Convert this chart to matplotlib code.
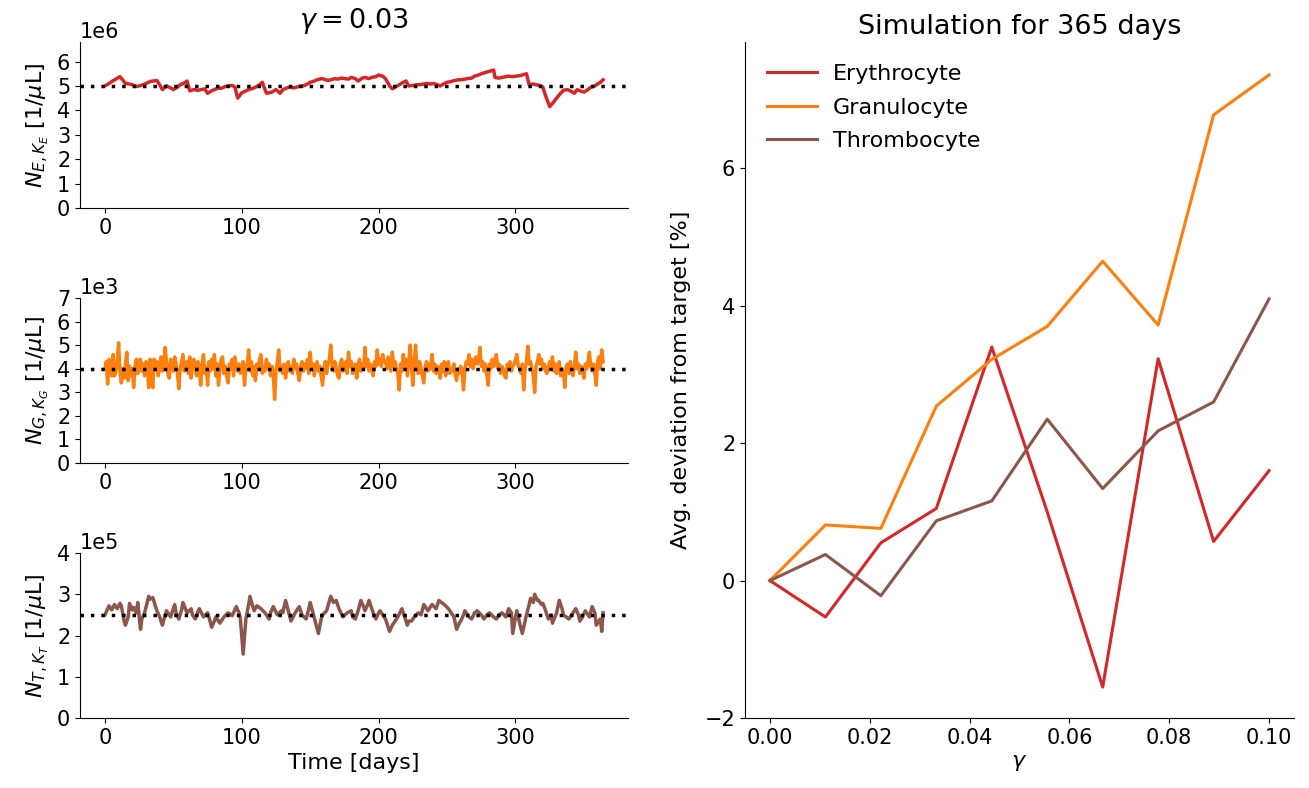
import numpy as np
import matplotlib
matplotlib.use("Agg")
import matplotlib.pyplot as plt
from matplotlib.ticker import MultipleLocator

# ---------------- data ----------------
# Erythrocytes (units of 1e6 / uL)
e_days = [0, 3, 5, 8, 11, 13, 15, 18, 20, 23,
          25, 28, 30, 33, 35, 38, 40, 42, 45, 48,
          50, 53, 55, 58, 60, 62, 65, 68, 70, 73,
          75, 78, 80, 83, 85, 88, 90, 93, 95, 97,
          100, 103, 105, 108, 110, 113, 115, 118, 120, 122,
          125, 128, 130, 133, 135, 138, 140, 143, 145, 148,
          150, 153, 155, 158, 160, 163, 165, 168, 170, 173,
          175, 178, 180, 183, 185, 188, 190, 193, 195, 198,
          200, 203, 205, 208, 210, 213, 215, 218, 220, 222,
          225, 228, 230, 233, 235, 238, 240, 243, 245, 248,
          250, 253, 255, 258, 260, 263, 265, 268, 270, 273,
          275, 278, 280, 282, 284, 285, 288, 290, 293, 295,
          298, 300, 303, 305, 308, 310, 313, 315, 318, 320,
          322, 325, 328, 330, 333, 335, 338, 340, 343, 345,
          348, 350, 353, 355, 358, 360, 362, 364]
e_vals = [5.00, 5.10, 5.18, 5.28, 5.38, 5.25, 5.10, 5.08, 5.05, 4.98,
          5.00, 5.05, 5.10, 5.18, 5.20, 5.22, 5.05, 4.85, 5.00, 4.92,
          4.85, 4.95, 5.05, 5.12, 5.20, 4.80, 4.85, 4.82, 4.85, 4.88,
          4.70, 4.80, 4.85, 4.92, 4.90, 4.98, 5.00, 5.02, 4.95, 4.50,
          4.72, 4.80, 4.85, 4.90, 4.95, 5.05, 5.15, 4.70, 4.72, 4.75,
          4.85, 4.70, 4.85, 4.92, 4.95, 4.92, 4.95, 5.00, 5.00, 5.08,
          5.15, 5.20, 5.25, 5.30, 5.28, 5.22, 5.25, 5.30, 5.28, 5.32,
          5.30, 5.28, 5.35, 5.30, 5.20, 5.32, 5.35, 5.30, 5.35, 5.38,
          5.45, 5.40, 5.30, 5.00, 4.88, 4.98, 5.05, 5.15, 5.20, 5.00,
          5.02, 5.05, 5.05, 5.08, 5.10, 5.08, 5.10, 5.05, 5.00, 5.10,
          5.15, 5.18, 5.22, 5.25, 5.25, 5.28, 5.30, 5.32, 5.40, 5.45,
          5.50, 5.55, 5.58, 5.62, 5.65, 5.35, 5.32, 5.35, 5.38, 5.40,
          5.38, 5.40, 5.42, 5.45, 5.50, 5.05, 5.08, 5.05, 5.02, 4.95,
          4.60, 4.15, 4.35, 4.50, 4.70, 4.82, 4.85, 4.80, 4.70, 4.85,
          4.78, 4.75, 4.85, 4.95, 5.00, 5.08, 5.15, 5.25]

# Granulocytes (units of 1e3 / uL), one value per day
g_vals = [4.0, 4.3, 3.35, 4.4, 4.2, 3.7, 4.6, 3.7, 3.9, 4.3,
          5.1, 3.9, 3.4, 4.0, 3.6, 4.2, 4.7, 3.5, 4.1, 3.7,
          4.0, 3.2, 4.1, 4.4, 3.8, 4.3, 4.4, 3.9, 4.2, 3.7,
          4.3, 4.1, 3.2, 4.4, 3.6, 3.2, 4.4, 4.0, 4.3, 3.7,
          4.1, 4.5, 3.9, 4.2, 4.9, 4.3, 3.8, 3.6, 4.4, 4.1,
          3.9, 4.5, 4.2, 3.8, 3.15, 4.0, 4.3, 4.6, 3.9, 4.2,
          4.3, 3.8, 4.5, 3.6, 4.1, 4.4, 4.0, 3.7, 4.3, 4.0,
          3.3, 4.2, 4.6, 3.8, 4.1, 3.3, 4.3, 3.9, 4.4, 4.0,
          4.6, 3.7, 4.2, 3.3, 4.0, 4.4, 4.5, 3.8, 4.1, 3.7,
          3.4, 4.2, 4.0, 4.4, 3.7, 4.5, 4.1, 3.9, 4.2, 3.8,
          4.0, 4.3, 3.3, 4.1, 4.2, 4.8, 3.9, 4.3, 3.7, 4.1,
          3.5, 4.2, 4.0, 4.4, 4.6, 3.8, 4.1, 3.9, 4.4, 4.0,
          4.2, 3.7, 4.1, 3.8, 2.7, 3.9, 4.3, 4.8, 3.9, 4.1,
          3.8, 4.2, 3.6, 4.0, 4.3, 3.9, 4.1, 3.8, 4.4, 4.0,
          4.2, 3.8, 3.5, 4.1, 4.3, 3.9, 4.2, 4.0, 4.4, 3.8,
          4.7, 4.0, 4.2, 3.7, 4.1, 4.3, 3.9, 4.1, 3.7, 3.3,
          4.0, 4.3, 3.8, 4.2, 4.4, 5.0, 4.1, 3.9, 4.3, 4.0,
          3.7, 3.6, 4.2, 4.4, 3.9, 4.1, 4.3, 3.8, 4.7, 4.1,
          4.3, 3.8, 4.0, 4.2, 3.6, 4.1, 4.4, 3.9, 4.2, 4.0,
          4.9, 4.1, 4.4, 3.9, 4.2, 4.0, 3.7, 4.3, 4.1, 4.8,
          4.2, 4.4, 4.1, 4.6, 4.3, 4.3, 4.0, 4.5, 4.2, 3.9,
          4.7, 4.1, 4.3, 4.0, 3.8, 3.1, 4.2, 3.9, 4.6, 4.0,
          4.4, 3.7, 4.2, 5.0, 4.1, 3.3, 4.3, 5.0, 4.0, 3.8,
          4.3, 4.0, 3.7, 3.4, 4.1, 4.3, 3.9, 4.2, 4.0, 4.6,
          3.9, 4.2, 3.8, 4.1, 4.0, 3.6, 4.2, 3.9, 4.3, 3.7,
          4.1, 4.3, 3.8, 4.0, 3.9, 4.2, 3.7, 3.5, 4.0, 3.8,
          4.1, 3.9, 3.1, 4.0, 4.3, 4.2, 4.6, 4.1, 4.4, 4.0,
          4.3, 4.5, 4.2, 4.4, 4.9, 4.1, 4.3, 3.9, 4.2, 3.8,
          3.3, 4.2, 4.0, 4.4, 4.1, 4.3, 4.6, 4.0, 4.2, 3.8,
          4.1, 4.0, 3.7, 3.6, 4.2, 4.0, 4.3, 3.9, 4.1, 4.2,
          4.4, 4.6, 4.1, 4.0, 3.8, 4.2, 3.1, 4.0, 4.3, 4.95,
          4.2, 4.3, 4.0, 3.7, 3.0, 4.1, 4.3, 4.6, 4.2, 4.4,
          4.0, 4.2, 3.9, 3.8, 4.1, 4.3, 4.0, 4.5, 3.9, 4.2,
          3.8, 4.1, 4.3, 3.7, 4.0, 3.9, 3.2, 4.1, 4.2, 3.8,
          4.3, 4.0, 3.7, 4.1, 4.7, 4.0, 4.2, 3.8, 4.1, 3.9,
          3.6, 4.2, 4.0, 4.3, 4.7, 4.1, 3.9, 4.2, 3.8, 3.3,
          4.3, 4.5, 4.0, 4.8, 4.3]

# Thrombocytes (units of 1e5 / uL)
t_days = [0, 2, 3, 5, 7, 9, 11, 12, 14, 15,
          17, 18, 20, 21, 23, 24, 26, 27, 29, 32,
          33, 35, 37, 38, 40, 42, 44, 45, 48, 51,
          52, 54, 56, 57, 60, 63, 64, 66, 68, 69,
          72, 75, 76, 78, 80, 81, 83, 84, 87, 90,
          93, 96, 98, 99, 101, 103, 105, 106, 108, 109,
          111, 114, 117, 120, 121, 123, 126, 129, 130, 132,
          134, 136, 139, 142, 144, 147, 149, 150, 152, 154,
          156, 158, 159, 162, 165, 167, 169, 171, 174, 177,
          180, 181, 183, 185, 187, 189, 190, 192, 193, 196,
          198, 200, 201, 203, 205, 206, 208, 210, 211, 214,
          217, 219, 221, 222, 224, 226, 229, 231, 233, 235,
          236, 238, 239, 242, 244, 246, 248, 251, 253, 255,
          257, 259, 260, 262, 263, 266, 268, 270, 272, 275,
          277, 279, 281, 284, 286, 288, 290, 293, 295, 297,
          298, 300, 301, 303, 305, 307, 308, 310, 311, 313,
          314, 316, 317, 319, 320, 322, 324, 326, 327, 330,
          332, 334, 335, 337, 339, 342, 344, 346, 347, 349,
          351, 354, 356, 358, 359, 361, 362, 363, 364]
t_vals = [2.50, 2.65, 2.72, 2.62, 2.75, 2.65, 2.78, 2.72, 2.35, 2.25,
          2.45, 2.78, 2.62, 2.68, 2.55, 2.80, 2.15, 2.40, 2.55, 2.95,
          2.88, 2.92, 2.70, 2.60, 2.45, 2.25, 2.50, 2.60, 2.45, 2.75,
          2.55, 2.40, 2.62, 2.80, 2.55, 2.65, 2.50, 2.40, 2.58, 2.65,
          2.45, 2.55, 2.45, 2.20, 2.35, 2.45, 2.35, 2.30, 2.45, 2.55,
          2.48, 2.70, 2.55, 2.40, 1.55, 2.40, 2.75, 2.95, 2.70, 2.60,
          2.72, 2.65, 2.55, 2.40, 2.55, 2.70, 2.50, 2.60, 2.55, 2.85,
          2.60, 2.35, 2.55, 2.70, 2.50, 2.40, 2.65, 2.80, 2.55, 2.30,
          2.05, 2.40, 2.50, 2.60, 2.95, 2.80, 2.85, 2.65, 2.45, 2.55,
          2.60, 2.45, 2.40, 2.60, 2.85, 2.70, 2.60, 2.75, 2.85, 2.55,
          2.40, 2.55, 2.60, 2.50, 2.40, 2.30, 2.10, 2.25, 2.30, 2.45,
          2.65, 2.45, 2.25, 2.35, 2.35, 2.45, 2.55, 2.50, 2.75, 2.65,
          2.60, 2.70, 2.75, 2.65, 2.85, 2.80, 2.75, 2.65, 2.55, 2.45,
          2.15, 2.30, 2.35, 2.50, 2.60, 2.45, 2.40, 2.55, 2.60, 2.50,
          2.40, 2.50, 2.55, 2.45, 2.40, 2.50, 2.55, 2.45, 2.65, 2.55,
          2.05, 2.45, 2.60, 2.30, 2.05, 2.35, 2.50, 2.75, 2.90, 2.80,
          3.00, 2.85, 2.85, 2.75, 2.78, 2.60, 2.40, 2.50, 2.30, 2.55,
          2.85, 2.65, 2.50, 2.45, 2.40, 2.55, 2.65, 2.50, 2.35, 2.45,
          2.60, 2.45, 2.70, 2.55, 2.25, 2.35, 2.40, 2.10, 2.55]

targets = [5.0, 4.0, 2.5]          # in the units above
scales = [1e6, 1e3, 1e5]
ylims_top = [6.8, 7.0, 4.0]

# right panel
gammas = np.linspace(0.0, 0.1, 10)
dev_ery = [0.0, -0.53, 0.55, 1.05, 3.40, 1.00, -1.55, 3.23, 0.57, 1.60]
dev_gra = [0.0, 0.81, 0.76, 2.54, 3.22, 3.70, 4.65, 3.72, 6.78, 7.36]
dev_thr = [0.0, 0.38, -0.22, 0.87, 1.16, 2.35, 1.34, 2.18, 2.60, 4.10]

RED, ORANGE, BROWN = "#d62728", "#ff7f0e", "#8c564b"

TICK_FS = 15
LAB_FS = 16
TITLE_FS = 19.5

# ---------------- figure ----------------
plt.rcParams['font.family'] = ['DejaVu Sans']
fig = plt.figure(figsize=(13.09, 7.88), dpi=100)

W, H = 1309.0, 788.0
def box(x0, y0, x1, y1):
    return [x0 / W, 1 - y1 / H, (x1 - x0) / W, (y1 - y0) / H]

ax_e = fig.add_axes(box(80, 42, 628, 208))
ax_g = fig.add_axes(box(80, 298, 628, 463))
ax_t = fig.add_axes(box(80, 553, 628, 718))
ax_r = fig.add_axes(box(745, 42, 1294, 718))

series = [
    (ax_e, np.array(e_days), np.array(e_vals), RED, r"$N_{E,K_E}$ [1/$\mu$L]"),
    (ax_g, np.arange(len(g_vals)), np.array(g_vals), ORANGE, r"$N_{G,K_G}$ [1/$\mu$L]"),
    (ax_t, np.array(t_days), np.array(t_vals), BROWN, r"$N_{T,K_T}$ [1/$\mu$L]"),
]

for i, (ax, x, y, c, lab) in enumerate(series):
    s = scales[i]
    ax.plot(x, y * s, color=c, lw=2.5)
    ax.axhline(targets[i] * s, color="black", ls=(0, (1, 2)), lw=2.5)
    ax.set_ylim(0, ylims_top[i] * s)
    ax.yaxis.set_major_locator(MultipleLocator(1 * s))
    ax.ticklabel_format(axis="y", style="sci", scilimits=(0, 0))
    ax.set_xlim(-18.2, 382.2)
    ax.xaxis.set_major_locator(MultipleLocator(100))
    ax.set_ylabel(lab, fontsize=LAB_FS, labelpad=4)
    ax.tick_params(labelsize=TICK_FS)
    ax.yaxis.get_offset_text().set_fontsize(TICK_FS)
    for sp in ("top", "right"):
        ax.spines[sp].set_visible(False)

ax_e.set_title(r"$\gamma = 0.03$", fontsize=TITLE_FS, pad=10)
ax_t.set_xlabel("Time [days]", fontsize=LAB_FS)

ax_r.plot(gammas, dev_ery, color=RED, lw=2.2, label="Erythrocyte")
ax_r.plot(gammas, dev_gra, color=ORANGE, lw=2.2, label="Granulocyte")
ax_r.plot(gammas, dev_thr, color=BROWN, lw=2.2, label="Thrombocyte")
ax_r.set_title("Simulation for 365 days", fontsize=TITLE_FS)
ax_r.set_xlabel(r"$\gamma$", fontsize=LAB_FS)
ax_r.set_ylabel("Avg. deviation from target [%]", fontsize=LAB_FS, labelpad=10)
ax_r.tick_params(labelsize=TICK_FS)
ax_r.set_ylim(-2.0, 7.84)
ax_r.yaxis.set_major_locator(MultipleLocator(2))
ax_r.xaxis.set_major_locator(MultipleLocator(0.02))
ax_r.legend(loc="upper left", frameon=False, fontsize=16, handlelength=2.25,
            handletextpad=0.7, labelspacing=0.6, borderaxespad=0.6)
for sp in ("top", "right"):
    ax_r.spines[sp].set_visible(False)

fig.savefig("out.png", dpi=100)
